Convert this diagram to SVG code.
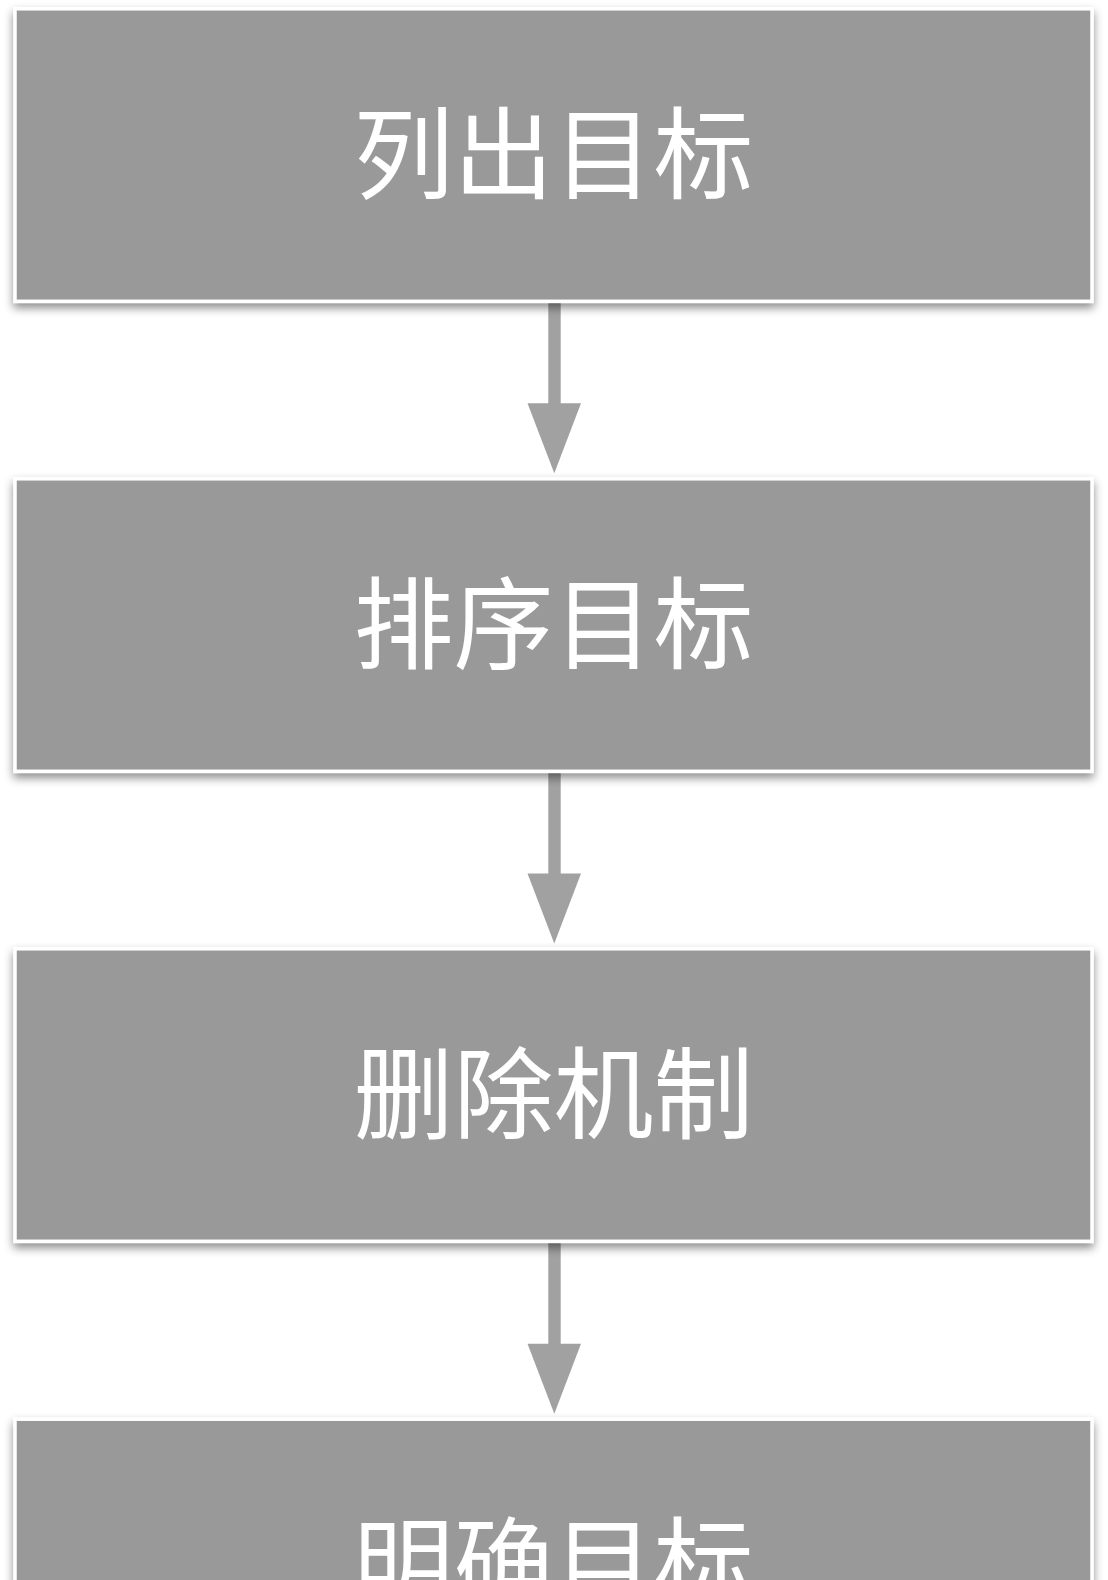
<svg xmlns="http://www.w3.org/2000/svg" width="1108" height="1580" viewBox="0 0 1108 1580">
<style>
.box{fill:#999999;stroke:#ffffff;stroke-width:3.5;filter:url(#sh);}
.lbl{fill:#ffffff;font-family:"Noto Sans CJK SC","Noto Sans",sans-serif;font-size:100px;font-weight:400;text-anchor:middle;dominant-baseline:central;}
.ln{stroke:#a1a1a1;stroke-width:12.4;stroke-linecap:round;fill:none;}
.hd{fill:#a1a1a1;}
</style>
<defs>
<filter id="sh" x="-5%" y="-10%" width="110%" height="125%">
<feDropShadow dx="0" dy="5" stdDeviation="5" flood-color="#000000" flood-opacity="0.45"/>
</filter>
</defs>
<rect width="1108" height="1580" fill="#ffffff"/>
<g id="connectors">
<line class="ln" x1="554.5" y1="303" x2="554.5" y2="405"/>
<polygon class="hd" points="527.5,403.3 581,403.3 554.3,473.3"/>
<line class="ln" x1="554.5" y1="773" x2="554.5" y2="875"/>
<polygon class="hd" points="527.5,873.5 581,873.5 554.3,943.5"/>
<line class="ln" x1="554.5" y1="1243" x2="554.5" y2="1345"/>
<polygon class="hd" points="527.5,1343.8 581,1343.8 554.3,1413.8"/>
</g>
<g id="node1">
<rect class="box" x="15" y="8.8" width="1077" height="292.5"/>
<text class="lbl" x="553.5" y="147">列出目标</text>
</g>
<g id="node2">
<rect class="box" x="15" y="478.8" width="1077" height="292.5"/>
<text class="lbl" x="553.5" y="617">排序目标</text>
</g>
<g id="node3">
<rect class="box" x="15" y="948.8" width="1077" height="292.5"/>
<text class="lbl" x="553.5" y="1087">删除机制</text>
</g>
<g id="node4">
<rect class="box" x="15" y="1419.2" width="1077" height="292.5"/>
<text class="lbl" x="553.5" y="1557.5">明确目标</text>
</g>
</svg>
